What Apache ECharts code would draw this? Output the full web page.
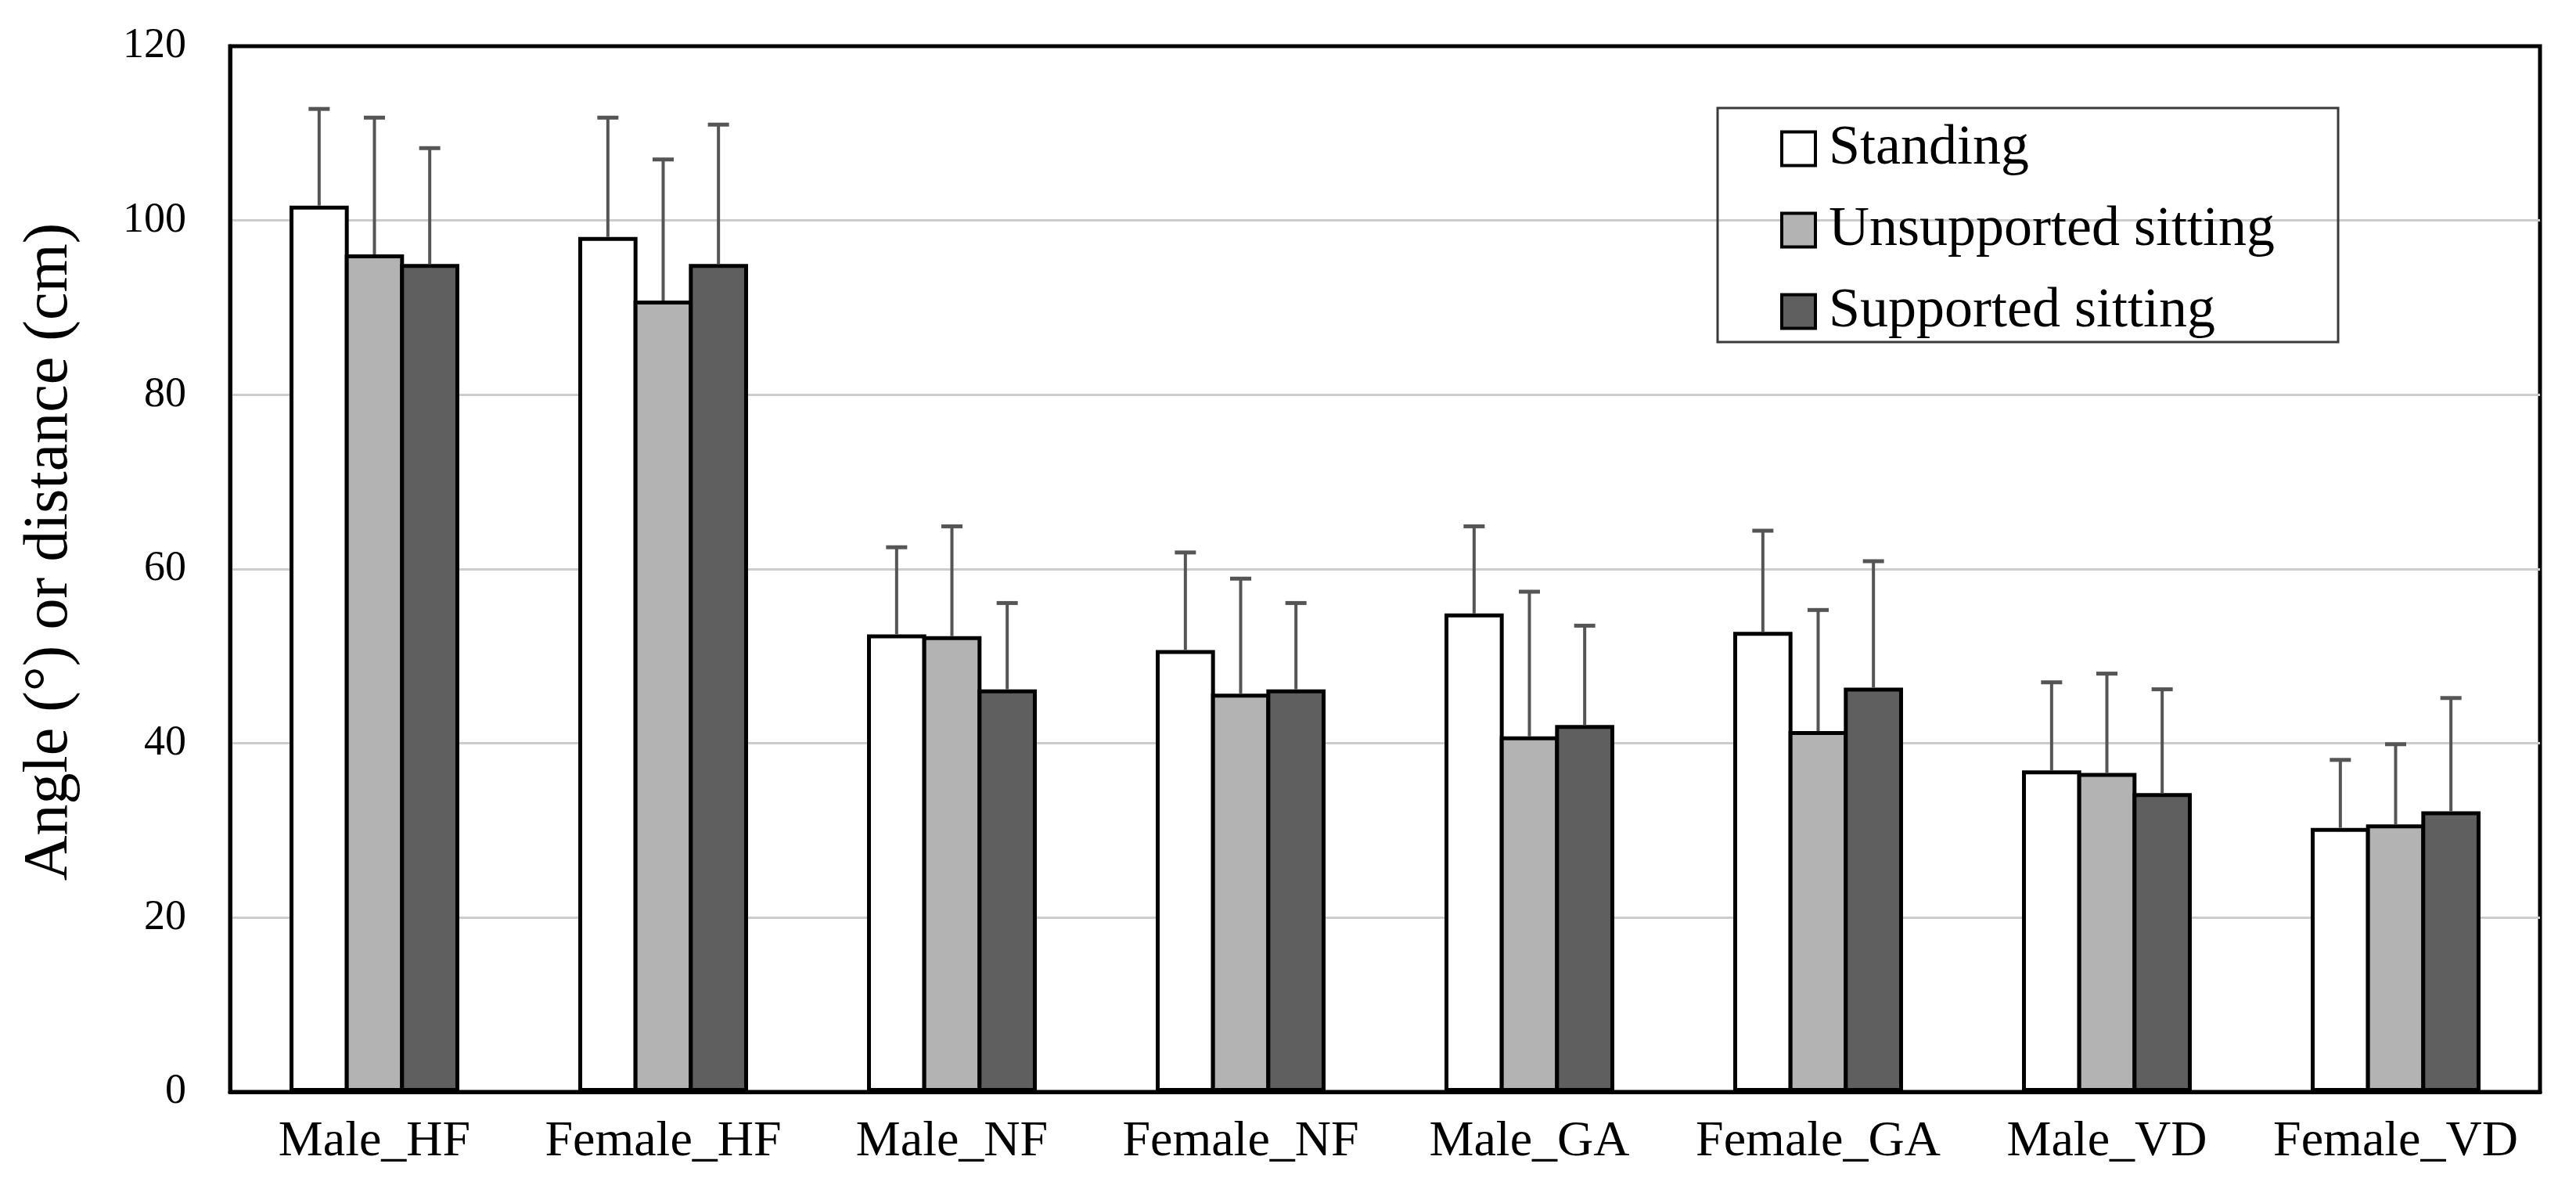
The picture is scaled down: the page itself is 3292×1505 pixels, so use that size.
<!DOCTYPE html>
<html>
<head>
<meta charset="utf-8">
<script src="https://cdn.jsdelivr.net/npm/echarts@6/dist/echarts.min.js"></script>
<style>
html,body{margin:0;padding:0;background:#fff;}
#chart{width:3292px;height:1505px;}
</style>
</head>
<body>
<div id="chart"></div>
<script>
const categories = ['Male_HF','Female_HF','Male_NF','Female_NF','Male_GA','Female_GA','Male_VD','Female_VD'];
const seriesNames = ['Standing','Unsupported sitting','Supported sitting'];
const standingMean = [101.7, 98.1, 52.5, 50.7, 54.9, 52.8, 36.9, 30.3];
const standingSD = [11.1, 13.7, 10.0, 11.2, 10.0, 11.6, 10.1, 7.8];
const unsupportedMean = [96.1, 90.8, 52.3, 45.7, 40.8, 41.4, 36.6, 30.7];
const unsupportedSD = [15.7, 16.2, 12.6, 13.2, 16.6, 13.9, 11.4, 9.2];
const supportedMean = [95.0, 95.0, 46.2, 46.2, 42.1, 46.4, 34.3, 32.2];
const supportedSD = [13.3, 16.0, 9.9, 9.9, 11.4, 14.5, 11.9, 13.0];
const yTicks = [0, 20, 40, 60, 80, 100, 120];

const means = [standingMean, unsupportedMean, supportedMean];
const sds = [standingSD, unsupportedSD, supportedSD];
const fills = ['#ffffff', '#b3b3b3', '#5f5f5f'];
const FONT = 'Liberation Serif';
const BAR_FRAC = 0.205;
const BAR_GAP = -0.066;

const chart = echarts.init(document.getElementById('chart'));

const barSeries = seriesNames.map((name, i) => ({
  name: name,
  type: 'bar',
  data: means[i],
  barWidth: (BAR_FRAC * 100) + '%',
  barGap: (BAR_GAP * 100) + '%',
  itemStyle: { color: fills[i], borderColor: '#000', borderWidth: 5 },
  z: 2
}));

const errSeries = seriesNames.map((name, i) => ({
  name: name + ' SD',
  type: 'custom',
  z: 5,
  data: means[i].map((m, k) => [k, m, m + sds[i][k]]),
  renderItem: function (params, api) {
    const band = api.size([1, 0])[0];
    const off = (i - 1) * band * BAR_FRAC * (1 + BAR_GAP);
    const p0 = api.coord([api.value(0), api.value(1)]);
    const p1 = api.coord([api.value(0), api.value(2)]);
    const x = p0[0] + off;
    const half = 13.5;
    return {
      type: 'group',
      children: [
        { type: 'line', shape: { x1: x, y1: p0[1], x2: x, y2: p1[1] },
          style: { stroke: '#555555', lineWidth: 4 } },
        { type: 'line', shape: { x1: x - half, y1: p1[1], x2: x + half, y2: p1[1] },
          style: { stroke: '#555555', lineWidth: 5 } }
      ]
    };
  }
}));

chart.setOption({
  animation: false,
  backgroundColor: '#ffffff',
  grid: {
    left: 294, right: 46, top: 59, bottom: 110,
    show: true, borderColor: '#000', borderWidth: 5, backgroundColor: 'transparent'
  },
  legend: {
    data: seriesNames,
    orient: 'vertical',
    left: 2275,
    top: 154,
    padding: 0,
    icon: 'rect',
    itemWidth: 43,
    itemHeight: 43,
    itemGap: 32,
    itemStyle: { borderWidth: 4, borderColor: '#000' },
    textStyle: { fontFamily: FONT, fontSize: 72, color: '#000', lineHeight: 68, padding: [0, 0, 0, 12] }
  },
  graphic: [{
    type: 'rect',
    shape: { x: 2195, y: 138, width: 793, height: 299 },
    style: { fill: 'none', stroke: '#3a3a3a', lineWidth: 3 },
    z: 10
  }],
  xAxis: {
    type: 'category',
    data: categories,
    axisTick: { show: false },
    axisLine: { show: true, lineStyle: { color: '#000', width: 5 } },
    axisLabel: { interval: 0, fontFamily: FONT, fontSize: 64, color: '#000', margin: 32 }
  },
  yAxis: {
    type: 'value',
    min: yTicks[0],
    max: yTicks[yTicks.length - 1],
    interval: yTicks[1] - yTicks[0],
    name: 'Angle (°) or distance (cm)',
    nameLocation: 'middle',
    nameGap: 190,
    nameTextStyle: { fontFamily: FONT, fontSize: 80, color: '#000', padding: [0, 0, 0, 44] },
    axisLine: { show: true, lineStyle: { color: '#000', width: 5 } },
    axisTick: { show: false },
    axisLabel: { fontFamily: FONT, fontSize: 54, color: '#000', margin: 56 },
    splitLine: { show: true, showMinLine: false, showMaxLine: false, lineStyle: { color: '#cccccc', width: 3 } }
  },
  series: barSeries.concat(errSeries)
});
</script>
</body>
</html>
